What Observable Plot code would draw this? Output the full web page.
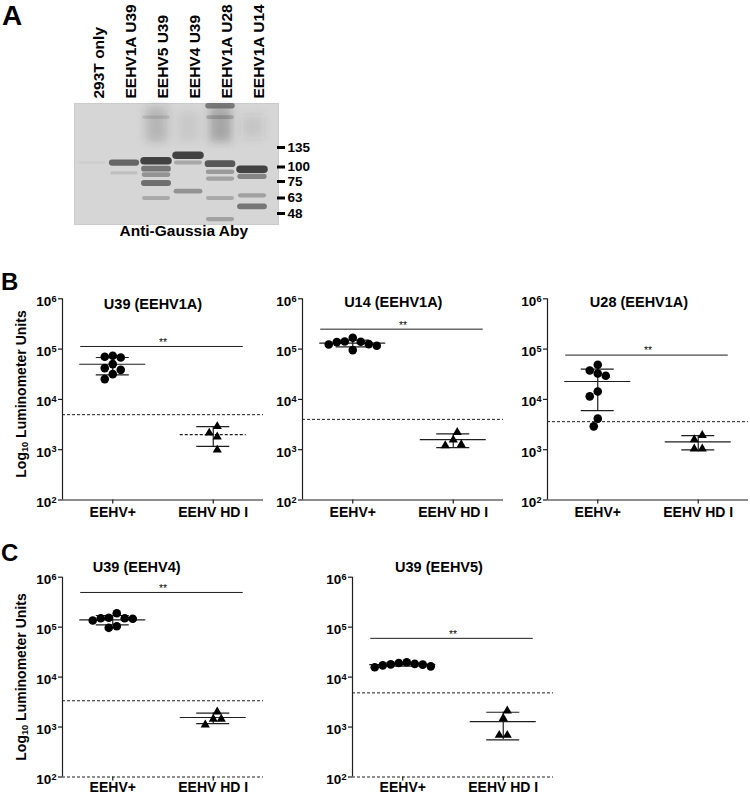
<!DOCTYPE html>
<html>
<head>
<meta charset="utf-8">
<script src="https://cdn.jsdelivr.net/npm/d3@7"></script>
<script src="https://cdn.jsdelivr.net/npm/@observablehq/plot@0.6"></script>
<style>
  html, body { margin: 0; padding: 0; background: #fff; }
  #fig { position: relative; width: 750px; height: 795px; overflow: hidden; font-family: 'Liberation Sans', Arial, Helvetica, sans-serif; color: #000; }
  #fig svg { position: absolute; }
  .txt { position: absolute; line-height: 1; white-space: nowrap; font-weight: bold; }
  .txt sub { font-size: 0.66em; vertical-align: -0.22em; line-height: 0; }
</style>
</head>
<body>
<div id="fig"></div>
<script>
// ---------------- DATA ----------------
// Panel A (western blot)
const lanes = ["293T only", "EEHV1A U39", "EEHV5 U39", "EEHV4 U39", "EEHV1A U28", "EEHV1A U14"];
const markers = [135, 100, 75, 63, 48];
const blotCaption = "Anti-Gaussia Aby";
// discrete bands: lane, apparent size (kDa), relative intensity
const bandLane = [
  "293T only",
  "EEHV1A U39", "EEHV1A U39",
  "EEHV5 U39", "EEHV5 U39", "EEHV5 U39", "EEHV5 U39", "EEHV5 U39", "EEHV5 U39",
  "EEHV4 U39", "EEHV4 U39", "EEHV4 U39",
  "EEHV1A U28", "EEHV1A U28", "EEHV1A U28", "EEHV1A U28", "EEHV1A U28", "EEHV1A U28", "EEHV1A U28",
  "EEHV1A U14", "EEHV1A U14", "EEHV1A U14", "EEHV1A U14"
];
const bandKDa = [
  108,
  108, 90,
  111, 97, 87, 74, 63, 225,
  121, 108, 68,
  106, 92, 80, 63, 44, 258, 225,
  96, 84, 65, 55
];
const bandIntensity = [
  0.05,
  0.75, 0.15,
  1.0, 0.65, 0.45, 0.7, 0.3, 0.15,
  1.0, 0.3, 0.45,
  0.85, 0.4, 0.35, 0.3, 0.35, 0.6, 0.25,
  1.0, 0.55, 0.35, 0.65
];
// diffuse high-MW smears: lane, from (kDa), to (kDa), relative intensity
const smearLane = ["EEHV5 U39", "EEHV4 U39", "EEHV1A U28", "EEHV1A U14"];
const smearFrom = [255, 240, 255, 230];
const smearTo = [150, 150, 150, 160];
const smearIntensity = [0.2, 0.06, 0.3, 0.1];

// Panels B and C (luminometer units)
const groups = ["EEHV+", "EEHV HD I"];
const titles = ["U39 (EEHV1A)", "U14 (EEHV1A)", "U28 (EEHV1A)", "U39 (EEHV4)", "U39 (EEHV5)"];
const yTicks = [1e2, 1e3, 1e4, 1e5, 1e6];
const yLabel = "Log<sub>10</sub> Luminometer Units";
const sigText = "**";

const posU39_EEHV1A = [73600, 70300, 68100, 50300, 41900, 38700, 31800, 25300];
const hdU39_EEHV1A  = [2900, 2150, 1810, 990];
const posU14_EEHV1A = [167500, 141700, 139700, 137700, 125600, 123400, 116200, 95500];
const hdU14_EEHV1A  = [2215, 1563, 1262, 1205];
const posU28_EEHV1A = [48800, 37600, 32800, 29500, 14400, 11500, 4140, 2910];
const hdU28_EEHV1A  = [1931, 1585, 1038, 1038];
const posU39_EEHV4  = [190000, 153800, 151000, 151000, 146800, 135800, 104200, 96900];
const hdU39_EEHV4   = [2018, 1442, 1442, 1107];
const posU39_EEHV5  = [19800, 19200, 18400, 18000, 17800, 17200, 16400, 15700];
const hdU39_EEHV5   = [2109, 1500, 686, 686];

// summary bars (mean and +/- SD)
const meanPos = [50000, 131500, 22700, 140300, 17800];
const loPos   = [30800, 111000, 5970, 111000, 16600];
const hiPos   = [68100, 151000, 40100, 171000, 19000];
const meanHD  = [1990, 1585, 1430, 1552, 1290];
const loHD    = [1160, 1101, 991, 1175, 555];
const hiHD    = [2870, 2057, 1905, 1901, 1977];
const sigLevel = [112800, 249000, 76000, 495000, 59700];
const cutoff   = [4970, 4010, 3610, 3360, 4830];

// ---------------- LAYOUT ----------------
const FONT = "'Liberation Sans', Arial, Helvetica, sans-serif";
const ink = "#1e1e1e";
const fig = document.getElementById("fig");
const NS = "http://www.w3.org/2000/svg";

function addText(html, x, baseline, fs, center, extra) {
  const d = document.createElement("div");
  d.className = "txt";
  d.innerHTML = html;
  d.style.left = x + "px";
  d.style.top = (baseline - 0.8465 * fs) + "px";
  d.style.fontSize = fs + "px";
  if (center) d.style.transform = "translateX(-50%)";
  if (extra) Object.assign(d.style, extra);
  fig.append(d);
  return d;
}
function addYLabel(cx, cy, fs) {
  const d = document.createElement("div");
  d.className = "txt";
  d.innerHTML = yLabel;
  d.style.fontSize = fs + "px";
  d.style.left = cx + "px";
  d.style.top = cy + "px";
  d.style.transform = "translate(-50%,-50%) rotate(-90deg)";
  fig.append(d);
}
function place(svg, left, top) {
  svg.style.left = left + "px";
  svg.style.top = top + "px";
  fig.append(svg);
}

// ---------------- PANEL A ----------------
const bands = bandLane.map((lane, i) => ({lane, kDa: bandKDa[i], intensity: bandIntensity[i]}));
const smears = smearLane.map((lane, i) => ({lane, from: smearFrom[i], to: smearTo[i], intensity: smearIntensity[i]}));
const lastLane = lanes[lanes.length - 1];
const A_W = 330, A_H = 250;
const SMEAR_W = 22;
const svgA = Plot.plot({
  width: A_W, height: A_H,
  marginLeft: 74, marginRight: 52, marginTop: 103, marginBottom: 26,
  style: {background: "transparent", overflow: "visible", fontFamily: FONT, color: "#000"},
  x: {type: "point", domain: lanes, range: [90, 253], padding: 0, axis: null},
  y: {type: "linear", domain: [265, 135, 100, 75, 63, 48, 40], range: [103, 147, 166.5, 181, 197.5, 213, 224], axis: null},
  marks: [
    Plot.frame({fill: "#d6d6d6", stroke: "#cbcbcb"}),
    Plot.ruleX(smears, {
      x: "lane", y1: "from", y2: "to",
      stroke: "#3a3a3a", strokeOpacity: "intensity", strokeWidth: SMEAR_W
    }),
    Plot.ruleY(bands, {
      ariaLabel: "bands",
      y: "kDa", x1: "lane", x2: "lane", insetLeft: -12, insetRight: -12,
      stroke: "#3a3a3a", strokeOpacity: d => Math.min(1, d.intensity * 0.95),
      strokeWidth: d => 2.5 + 5 * d.intensity, strokeLinecap: "round"
    }),
    Plot.ruleY(markers, {y: d => d, x1: () => lastLane, x2: () => lastLane, insetLeft: 25, insetRight: -33, stroke: "#000", strokeWidth: 3}),
    Plot.text(markers, {y: d => d, x: () => lastLane, text: d => String(d), textAnchor: "start", dx: 35, fontSize: 13.5, fontWeight: "bold", fill: "#000"}),
    Plot.text(lanes, {x: d => d, frameAnchor: "top", text: d => d, rotate: -90, textAnchor: "start", dy: -5, fontSize: 15.5, fontWeight: "bold", fill: "#000"}),
    Plot.text([blotCaption], {frameAnchor: "bottom", text: d => d, dx: 7.3, dy: 11.5, fontSize: 15.5, fontWeight: "bold", fill: "#000"})
  ]
});
(function addBlur(svg) {
  const defs = document.createElementNS(NS, "defs");
  const mk = (id, sd) => {
    const filt = document.createElementNS(NS, "filter");
    filt.setAttribute("id", id);
    filt.setAttribute("filterUnits", "userSpaceOnUse");
    filt.setAttribute("x", "0"); filt.setAttribute("y", "0");
    filt.setAttribute("width", String(A_W)); filt.setAttribute("height", String(A_H));
    const fe = document.createElementNS(NS, "feGaussianBlur");
    fe.setAttribute("stdDeviation", String(sd));
    filt.append(fe); defs.append(filt);
  };
  mk("bandBlurA", 1.9);
  mk("smearBlurA", 4.5);
  svg.prepend(defs);
  const gs = Array.from(svg.querySelectorAll("g"));
  const gb = gs.find(n => n.getAttribute("aria-label") === "bands");
  const gsm = gs.find(n => n.getAttribute("stroke-width") === String(SMEAR_W));
  if (gb) gb.setAttribute("filter", "url(#bandBlurA)");
  if (gsm) gsm.setAttribute("filter", "url(#smearBlurA)");
})(svgA);
place(svgA, 0, 0);

// ---------------- PANELS B, C ----------------
// simple beeswarm: spreads points of similar value horizontally (pixels)
function swarm(pys, d, step) {
  const order = pys.map((y, i) => i).sort((a, b) => pys[a] - pys[b]);
  const placed = [];
  const out = new Array(pys.length).fill(0);
  for (const i of order) {
    const y = pys[i];
    for (let k = 0; k < 200; k++) {
      const c = k === 0 ? 0 : (k % 2 ? -1 : 1) * Math.ceil(k / 2) * step;
      if (placed.every(p => (p.x - c) ** 2 + (p.y - y) ** 2 >= d * d - 1e-9)) {
        placed.push({x: c, y}); out[i] = c; break;
      }
    }
  }
  const mn = d3.min(out), mx = d3.max(out), shift = -(mn + mx) / 2;
  return out.map(v => v + shift);
}

const posSets = [posU39_EEHV1A, posU14_EEHV1A, posU28_EEHV1A, posU39_EEHV4, posU39_EEHV5];
const hdSets  = [hdU39_EEHV1A, hdU14_EEHV1A, hdU28_EEHV1A, hdU39_EEHV4, hdU39_EEHV5];

const layout = [
  {left: 0,   top: 250, h: 280, mt: 48.3, mb: 30.5, mr: 3, tx: 153,   ty: 309,   hdDash: true,  xDash: false, ldy: 12.3},
  {left: 240, top: 250, h: 280, mt: 48.3, mb: 30.5, mr: 3, tx: 393.3, ty: 307,   hdDash: false, xDash: false, ldy: 12.3},
  {left: 485, top: 250, h: 280, mt: 48.3, mb: 30.5, mr: 2, tx: 639,   ty: 307,   hdDash: false, xDash: false, ldy: 12.3},
  {left: 0,   top: 528, h: 267, mt: 48.7, mb: 18.5, mr: 3, tx: 136.7, ty: 572.5, hdDash: false, xDash: true,  ldy: 10.5},
  {left: 290, top: 528, h: 267, mt: 48.7, mb: 18.5, mr: 3, tx: 439,   ty: 572.5, hdDash: false, xDash: true,  ldy: 10.5}
];

function supify(svg) {
  svg.querySelectorAll("text").forEach(t => {
    const m = /^10\^(\d)$/.exec(t.textContent);
    if (!m) return;
    t.textContent = "";
    const a = document.createElementNS(NS, "tspan");
    a.textContent = "10";
    const b = document.createElementNS(NS, "tspan");
    b.textContent = m[1];
    b.setAttribute("dy", "-0.45em");
    b.setAttribute("font-size", "0.68em");
    t.append(a, b);
  });
}

layout.forEach((L, p) => {
  const W = 201, ML = 62;
  const plotH = L.h - L.mt - L.mb;
  const pxPerUnit = W / 2;
  const toPy = v => -(Math.log10(v) - 2) / 4 * plotH;
  const pts = [];
  [posSets[p], hdSets[p]].forEach((vals, g) => {
    const offs = swarm(vals.map(toPy), 8, 4);
    vals.forEach((v, i) => pts.push({g, value: v, x: g + offs[i] / pxPerUnit}));
  });
  const stats = [
    {g: 0, mean: meanPos[p], lo: loPos[p], hi: hiPos[p]},
    {g: 1, mean: meanHD[p], lo: loHD[p], hi: hiHD[p]}
  ];
  const svg = Plot.plot({
    width: ML + W + L.mr, height: L.h,
    marginLeft: ML, marginRight: L.mr, marginTop: L.mt, marginBottom: L.mb,
    style: {background: "transparent", overflow: "visible", fontFamily: FONT, color: "#000"},
    x: {type: "linear", domain: [-0.5, 1.5], axis: null},
    y: {type: "log", domain: [1e2, 1e6], axis: null},
    marks: [
      // cutoff
      Plot.ruleY([cutoff[p]], {y: d => d, stroke: ink, strokeWidth: 1, strokeDasharray: "3,2"}),
      // axes
      Plot.ruleY([yTicks[0]], {y: d => d, stroke: ink, strokeWidth: 1.2, strokeDasharray: L.xDash ? "3,2" : null}),
      Plot.ruleX([-0.5], {x: d => d, stroke: ink, strokeWidth: 1.2}),
      Plot.ruleY(yTicks, {y: d => d, x1: -0.5, x2: -0.5, insetLeft: -4, stroke: ink, strokeWidth: 1.2}),
      Plot.ruleX([0, 1], {x: d => d, y1: 1e2, y2: 1e2, insetBottom: -4, stroke: ink, strokeWidth: 1.2}),
      Plot.text(yTicks, {x: -0.5, y: d => d, text: d => "10^" + Math.round(Math.log10(d)), textAnchor: "end", dx: -6, dy: 2.5, fontSize: 13.5, fontWeight: "bold", fill: "#000"}),
      Plot.text(groups, {x: (d, i) => i, y: 1e2, text: d => d, dy: L.ldy, fontSize: 14, fontWeight: "bold", fill: "#000"}),
      // significance
      Plot.ruleY([sigLevel[p]], {y: d => d, x1: 0, x2: 1, insetLeft: -32, insetRight: -30, stroke: ink, strokeWidth: 1}),
      Plot.text([sigLevel[p]], {x: 0.5, y: d => d, text: () => sigText, dy: -4, fontSize: 10.5, fill: "#000", fillOpacity: 0.99}),
      // error bars and means
      Plot.ruleX(stats, {x: "g", y1: "lo", y2: "hi", stroke: ink, strokeWidth: 1.2}),
      Plot.ruleY(stats, {x1: "g", x2: "g", y: "lo", insetLeft: -16.5, insetRight: -16.5, stroke: ink, strokeWidth: 1.2}),
      Plot.ruleY(stats, {x1: "g", x2: "g", y: "hi", insetLeft: -16.5, insetRight: -16.5, stroke: ink, strokeWidth: 1.2}),
      Plot.ruleY(stats.filter(s => s.g === 0 || !L.hdDash), {x1: "g", x2: "g", y: "mean", insetLeft: -33, insetRight: -33, stroke: ink, strokeWidth: 1.2}),
      Plot.ruleY(stats.filter(s => s.g === 1 && L.hdDash), {x1: "g", x2: "g", y: "mean", insetLeft: -33, insetRight: -33, stroke: ink, strokeWidth: 1.2, strokeDasharray: "3,2"}),
      // points
      Plot.dot(pts.filter(d => d.g === 0), {x: "x", y: "value", r: 4.3, symbol: "circle", fill: "#000", stroke: "none"}),
      Plot.dot(pts.filter(d => d.g === 1), {x: "x", y: "value", r: 3.4, symbol: "triangle", fill: "#000", stroke: "none"})
    ]
  });
  supify(svg);
  place(svg, L.left, L.top);
  addText(titles[p], L.tx, L.ty, 14.5, true);
});

// y-axis titles
addYLabel(21, 393.5, 14);
addYLabel(21, 677, 14);

// panel letters
addText("A", 2, 26, 28, false);
addText("B", 1, 290, 24, false);
addText("C", 1, 561, 24, false);
</script>
</body>
</html>
